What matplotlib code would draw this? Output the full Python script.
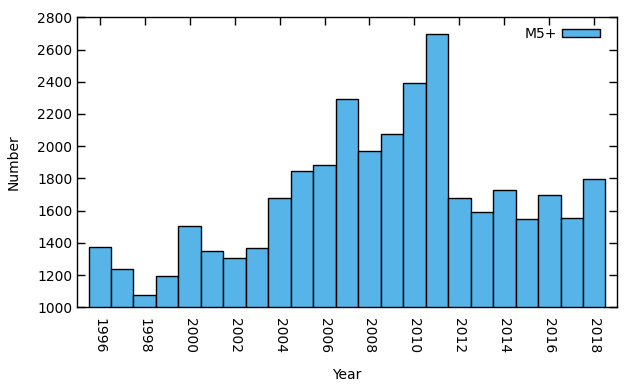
import matplotlib
matplotlib.use("Agg")
import matplotlib.pyplot as plt

years = list(range(1996, 2019))
counts = [1377, 1240, 1079, 1197, 1507, 1352, 1308, 1370, 1681, 1848, 1881, 2291,
          1972, 2078, 2395, 2695, 1681, 1594, 1730, 1550, 1699, 1557, 1799]
series_label = "M5+"

fig = plt.figure(figsize=(6.4, 3.84), dpi=100)
ax = fig.add_axes([0.1208, 0.1997, 0.8428, 0.7553])
ax.set_axisbelow(True)  # bars hide the bottom ticks, as in gnuplot

ax.bar(years, counts, width=1.0, bottom=0, color="#56b4e9", edgecolor="black",
       linewidth=1.0, label=series_label)

ax.set_xlim(1995, 2019)
ax.set_ylim(1000, 2800)
ax.set_xticks(range(1996, 2019, 2))
ax.set_yticks(range(1000, 2801, 200))
ax.tick_params(direction="in", length=5.5, width=1, top=True, right=True, labelsize=10)
for lbl in ax.get_xticklabels():
    lbl.set_rotation(270)
    lbl.set_va("top")
ax.tick_params(axis="x", pad=8)
for s in ax.spines.values():
    s.set_linewidth(1)
    s.set_zorder(3)

ax.set_xlabel("Year", fontsize=10, labelpad=10)
ax.set_ylabel("Number", fontsize=10, labelpad=12)

ax.legend(loc="upper right", bbox_to_anchor=(0.987, 1.0), frameon=False,
          markerfirst=False, handlelength=2.7, handleheight=0.5, fontsize=10,
          handletextpad=0.4, borderaxespad=0.3)

fig.savefig("out.png", dpi=100)
